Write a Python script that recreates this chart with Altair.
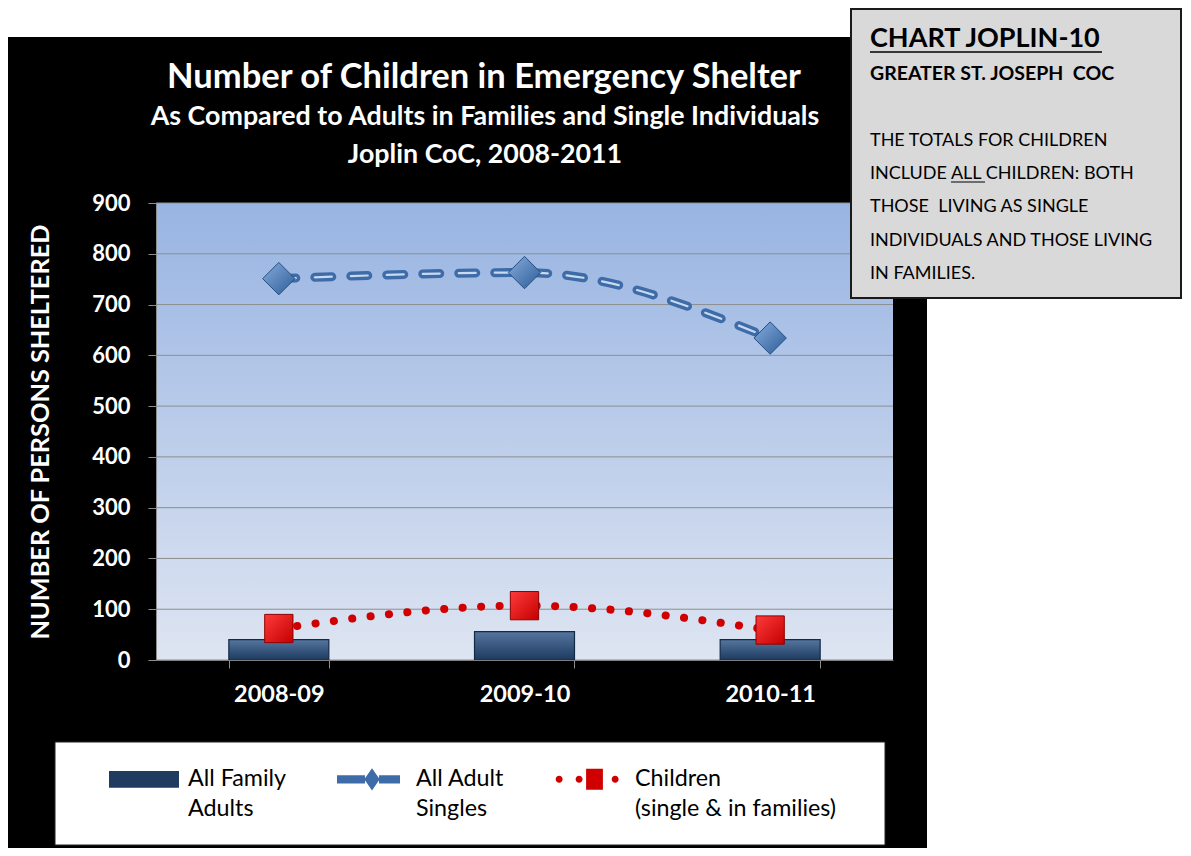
import altair as alt
import pandas as pd

# ---------------- data ----------------
YEARS = ["2008-09", "2009-10", "2010-11"]
FAMILY_ADULTS = [40, 56, 40]
ADULT_SINGLES = [751, 763, 634]
CHILDREN = [62, 107, 59]
SERIES = ["All Family|Adults", "All Adult|Singles", "Children|(single & in families)"]
Y_TICKS = [0, 100, 200, 300, 400, 500, 600, 700, 800, 900]

TITLE = "Number of Children in Emergency Shelter"
SUBTITLE = ["As Compared to Adults in Families and Single Individuals", "Joplin CoC, 2008-2011"]
Y_TITLE = "NUMBER OF PERSONS SHELTERED"
NOTE_HEAD = "CHART JOPLIN-10"
NOTE_SUB = "GREATER ST. JOSEPH\u00a0 COC"
NOTE_BODY = ["THE TOTALS FOR CHILDREN", "INCLUDE ALL CHILDREN: BOTH", "THOSE\u00a0 LIVING AS SINGLE",
             "INDIVIDUALS AND THOSE LIVING", "IN FAMILIES."]

rows = []
for s, vals in zip(SERIES, [FAMILY_ADULTS, ADULT_SINGLES, CHILDREN]):
    for y, v in zip(YEARS, vals):
        rows.append({"year": y, "value": v, "series": s})
df = pd.DataFrame(rows)
ticks_df = pd.DataFrame({"value": Y_TICKS})
one = pd.DataFrame({"k": [0]})

W, H = 737, 457
FONT = "Lato"

xscale = alt.Scale(domain=YEARS, paddingInner=0.593, paddingOuter=0.2965)
yscale = alt.Scale(domain=[0, 900], nice=False)

xaxis = alt.Axis(title=None, labelColor="white", labelFont=FONT, labelFontSize=23.5, labelFontWeight="bold",
                 labelPadding=14, tickSize=8, tickColor="#8C8C8C", tickBand="extent",
                 domainColor="#7F7F7F", labelAngle=0, grid=False, zindex=1)
yaxis = alt.Axis(title=Y_TITLE, values=Y_TICKS, labelColor="white", labelFont=FONT, labelFontSize=22,
                 labelFontWeight="bold", labelPadding=18, tickSize=8, tickColor="#8C8C8C",
                 domainColor="#8C8C8C", grid=False, titleColor="white", titleFont=FONT,
                 titleFontSize=25.3, titleFontWeight="bold", titleAngle=270, titleX=-116, titleY=H / 2,
                 titleAlign="center", titleBaseline="middle", zindex=1)


def X():
    return alt.X("year:N", scale=xscale, axis=xaxis, sort=YEARS)


def Y(field="value"):
    return alt.Y(f"{field}:Q", scale=yscale, axis=yaxis)


def grad(c1, c2, x2=0, y2=1):
    return alt.Gradient(gradient="linear", x1=0, y1=0, x2=x2, y2=y2,
                        stops=[alt.GradientStop(color=c1, offset=0), alt.GradientStop(color=c2, offset=1)])


# ---------------- decorative panels and texts ----------------
black_panel = alt.Chart(one).mark_rect(fill="black").encode(
    x=alt.value(-148), x2=alt.value(771), y=alt.value(-166), y2=alt.value(H + 200))
plot_bg = alt.Chart(one).mark_rect(fill=grad("#98B4E2", "#DEE5F2")).encode(
    x=alt.value(0), x2=alt.value(W), y=alt.value(0), y2=alt.value(H))
legend_box = alt.Chart(one).mark_rect(fill="white", stroke="#222222", strokeWidth=1).encode(
    x=alt.value(-101), x2=alt.value(729), y=alt.value(539), y2=alt.value(642))

title_main = alt.Chart(one).mark_text(align="center", baseline="middle", font=FONT, fontSize=34.5,
                                      fontWeight="bold", color="white", text=TITLE).encode(
    x=alt.value(328), y=alt.value(-125))
title_sub = alt.Chart(one).mark_text(align="center", baseline="middle", font=FONT, fontSize=26.8,
                                     fontWeight="bold", color="white", lineHeight=38, text=SUBTITLE).encode(
    x=alt.value(329), y=alt.value(-86))

note_box = alt.Chart(one).mark_rect(fill="#D9D9D9", stroke="#1A1A1A", strokeWidth=2).encode(
    x=alt.value(695), x2=alt.value(1025), y=alt.value(-194), y2=alt.value(95))
note_head = alt.Chart(one).mark_text(align="left", baseline="alphabetic", font=FONT, fontSize=27,
                                     fontWeight="bold", color="black", text=NOTE_HEAD).encode(
    x=alt.value(714), y=alt.value(-156))
note_head_ul = alt.Chart(one).mark_rule(color="black", strokeWidth=1.5).encode(
    x=alt.value(714), x2=alt.value(946), y=alt.value(-151))
note_sub = alt.Chart(one).mark_text(align="left", baseline="alphabetic", font=FONT, fontSize=19.5,
                                    fontWeight="bold", color="black", text=NOTE_SUB).encode(
    x=alt.value(714), y=alt.value(-123))
note_body = alt.Chart(one).mark_text(align="left", baseline="alphabetic", font=FONT, fontSize=18,
                                     lineHeight=33.2, color="black", text=NOTE_BODY).encode(
    x=alt.value(714), y=alt.value(-57))
note_all_ul = alt.Chart(one).mark_rule(color="black", strokeWidth=1).encode(
    x=alt.value(795), x2=alt.value(829), y=alt.value(-21))

# ---------------- data layers ----------------
grid = alt.Chart(ticks_df).mark_rule(color="#8E8E8E", strokeWidth=1).encode(y=Y())

bars = alt.Chart(df).transform_filter(alt.datum.series == SERIES[0]).mark_bar(
    fill=grad("#5576A0", "#1E3A5F"), stroke="#132A45", strokeWidth=1.2).encode(x=X(), y=Y())

singles = alt.Chart(df).transform_filter(alt.datum.series == SERIES[1])
singles_outer = singles.mark_line(interpolate="monotone", strokeDash=[17, 19], strokeCap="round",
                                  strokeWidth=9, color="#3E6CA8").encode(x=X(), y=Y())
singles_inner = singles.mark_line(interpolate="monotone", strokeDash=[17, 19], strokeCap="round",
                                  strokeWidth=2.2, color="#C9D9F0").encode(x=X(), y=Y())
singles_pts = singles.mark_point(shape="diamond", size=1050, filled=True, opacity=1,
                                 fill=grad("#86ACDC", "#2D5C99", x2=1, y2=1), stroke="#24507F",
                                 strokeWidth=1).encode(x=X(), y=Y())

kids = alt.Chart(df).transform_filter(alt.datum.series == SERIES[2])
kids_line = kids.mark_line(interpolate="monotone", strokeDash=[0.1, 18.4], strokeCap="round",
                           strokeWidth=8, color="#D00000").encode(x=X(), y=Y())
kids_pts = kids.mark_point(shape="square", size=800, filled=True, opacity=1,
                           fill=grad("#FF3A3A", "#C40000", x2=1, y2=1), stroke="#8E0000",
                           strokeWidth=1).encode(x=X(), y=Y())

# ---------------- legend (from an invisible point layer) ----------------
SHAPES = [
    "M-1,-0.24H1V0.24H-1Z",
    "M-1,-0.12H-0.2V0.12H-1Z M0.2,-0.12H0.8V0.12H0.2Z M0,-0.32L0.22,0L0,0.32L-0.22,0Z",
    "M-1.01,0A0.1,0.1 0 1,0 -0.81,0A0.1,0.1 0 1,0 -1.01,0Z "
    "M-0.44,0A0.1,0.1 0 1,0 -0.24,0A0.1,0.1 0 1,0 -0.44,0Z "
    "M-0.14,-0.3H0.34V0.3H-0.14Z "
    "M0.59,0A0.1,0.1 0 1,0 0.79,0A0.1,0.1 0 1,0 0.59,0Z",
]
COLORS = ["#1F3B5F", "#3E6CA8", "#D00000"]
leg = alt.Legend(title=None, orient="none", legendX=-47, legendY=541, direction="horizontal", columns=3,
                 symbolSize=4900, symbolOpacity=1, symbolStrokeWidth=0, labelFont=FONT, labelFontSize=23.3,
                 labelColor="black", labelOffset=9, columnPadding=50, labelLimit=400,
                 labelExpr="split(datum.label, '|')", labelBaseline="middle", padding=0)
legend_src = alt.Chart(df).mark_point(filled=True, opacity=0).encode(
    x=X(), y=Y(),
    color=alt.Color("series:N", scale=alt.Scale(domain=SERIES, range=COLORS), legend=leg),
    shape=alt.Shape("series:N", scale=alt.Scale(domain=SERIES, range=SHAPES), legend=leg),
)

chart = alt.layer(
    black_panel, title_main, title_sub, legend_box, plot_bg, grid, bars,
    singles_outer, singles_inner, kids_line, singles_pts, kids_pts, legend_src,
    note_box, note_head, note_head_ul, note_sub, note_body, note_all_ul,
).properties(
    width=W, height=H,
    autosize=alt.AutoSizeParams(type="none"),
    padding={"left": 148, "top": 195, "right": 290, "bottom": 188},
).configure_view(stroke=None).configure(
    background="white", style={"guide-label": {"lineHeight": 30}})

chart.save("out.html", embed_options={"renderer": "svg", "actions": False})
